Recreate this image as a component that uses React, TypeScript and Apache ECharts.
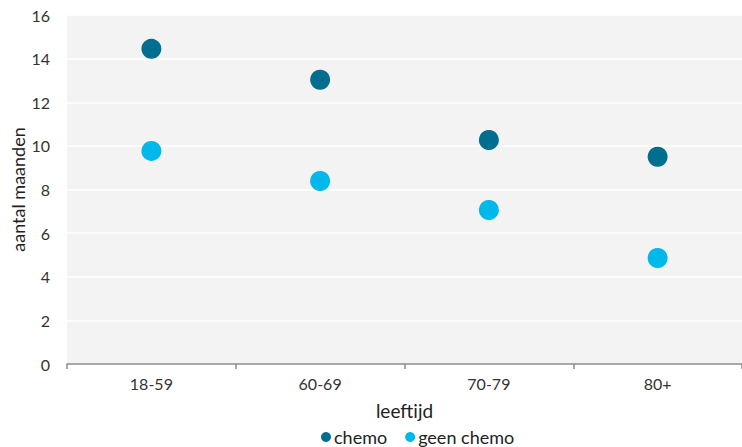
import React, { useEffect, useRef } from "react";
import * as echarts from "echarts";

const categories = ["18-59", "60-69", "70-79", "80+"];
const chemo = [14.45, 13.03, 10.27, 9.5];
const geenChemo = [9.77, 8.39, 7.06, 4.86];
const seriesNames = ["chemo", "geen chemo"];

const FONT = "Lato, 'Open Sans', sans-serif";

export default function App() {
  const ref = useRef<HTMLDivElement>(null);
  useEffect(() => {
    if (!ref.current) return;
    const chart = echarts.init(ref.current, null, { renderer: "svg" });
    chart.setOption({
      animation: false,
      textStyle: { fontFamily: FONT },
      grid: {
        left: 67,
        right: 0,
        top: 15,
        bottom: 83,
        show: true,
        backgroundColor: "#f3f3f3",
        borderWidth: 0,
        outerBoundsMode: "none",
        containLabel: false,
      },
      legend: {
        top: 428,
        left: 321,
        icon: "circle",
        itemWidth: 10,
        itemHeight: 10,
        itemGap: 18,
        padding: 0,
        textStyle: { color: "#222", fontSize: 18, fontFamily: FONT, padding: [0, 0, 0, -2] },
        data: seriesNames,
      },
      xAxis: {
        type: "category",
        data: categories,
        name: "leeftijd",
        nameLocation: "middle",
        nameGap: 37,
        nameTextStyle: { color: "#222", fontSize: 19, fontFamily: FONT },
        axisLine: { lineStyle: { color: "#8c8c8c", width: 1.5 } },
        axisTick: { show: true, length: 5, lineStyle: { color: "#8c8c8c", width: 1.5 } },
        axisLabel: { color: "#333", fontSize: 16, margin: 11, fontFamily: FONT },
        splitLine: { show: false },
      },
      yAxis: {
        type: "value",
        min: 0,
        max: 16,
        interval: 2,
        name: "aantal maanden",
        nameLocation: "middle",
        nameGap: 40,
        nameMoveOverlap: false,
        nameTextStyle: { color: "#222", fontSize: 18, fontFamily: FONT },
        axisLine: { show: false },
        axisTick: { show: false },
        axisLabel: { color: "#333", fontSize: 16, margin: 17, fontFamily: FONT },
        splitLine: { lineStyle: { color: "#ffffff", width: 1.5 } },
      },
      series: [
        {
          name: seriesNames[0],
          type: "scatter",
          data: chemo,
          symbolSize: 20,
          itemStyle: { color: "#006e8f", opacity: 1 },
        },
        {
          name: seriesNames[1],
          type: "scatter",
          data: geenChemo,
          symbolSize: 20,
          itemStyle: { color: "#00b8e9", opacity: 1 },
        },
      ],
    });
    return () => chart.dispose();
  }, []);
  return <div ref={ref} style={{ width: 742, height: 447, position: "absolute", left: 0, top: 0 }} />;
}
